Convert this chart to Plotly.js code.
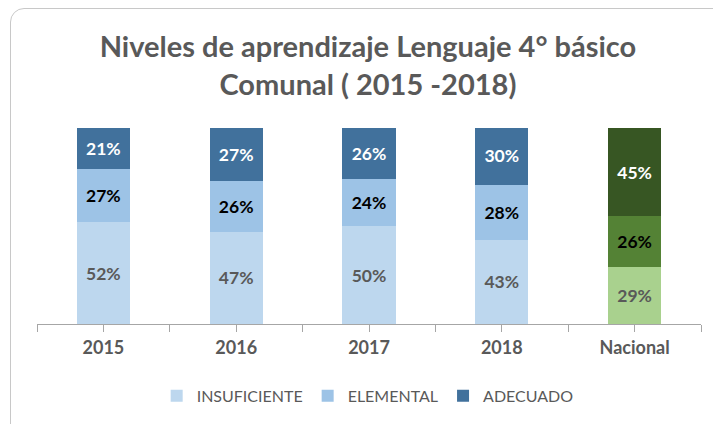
<!DOCTYPE html>
<html>
<head>
<meta charset="utf-8">
<script src="https://cdn.plot.ly/plotly-3.0.1.min.js"></script>
<style>
  html, body { margin: 0; padding: 0; background: #ffffff; overflow: hidden; }
  #card { position: absolute; left: 10px; top: 8px; width: 760px; height: 480px;
          border: 1px solid #c8c8c8; border-radius: 14px; box-sizing: border-box; }
  #chart { position: absolute; left: 0; top: 0; width: 713px; height: 424px; }
</style>
</head>
<body>
<div id="card"></div>
<div id="chart"></div>
<script>
const categories = ['2015', '2016', '2017', '2018', 'Nacional'];
const insuficiente = [52, 47, 50, 43, 29];
const elemental = [27, 26, 24, 28, 26];
const adecuado = [21, 27, 26, 30, 45];

const xpos = categories.map((c, i) => i);

const colInsuf = ['#BDD7EE', '#BDD7EE', '#BDD7EE', '#BDD7EE', '#A9D18E'];
const colElem = ['#9DC3E6', '#9DC3E6', '#9DC3E6', '#9DC3E6', '#548235'];
const colAdec = ['#41719C', '#41719C', '#41719C', '#41719C', '#375623'];

const FONT = 'Lato, "Open Sans", sans-serif';

function trace(name, vals, colors, txtColor) {
  return {
    type: 'bar', name: name, x: xpos, y: vals,
    marker: { color: colors, line: { width: 0 } },
    texttemplate: '%{y}%', textposition: 'inside', insidetextanchor: 'middle',
    textangle: 0, constraintext: 'none',
    textfont: { family: FONT, size: 17.5, color: txtColor, weight: 'bold' },
    hoverinfo: 'skip', width: 0.4
  };
}

const data = [
  trace('INSUFICIENTE', insuficiente, colInsuf, '#595959'),
  trace('ELEMENTAL', elemental, colElem, '#000000'),
  trace('ADECUADO', adecuado, colAdec, '#ffffff')
];

const tickvals = [];
const ticktext = [];
for (let i = 0; i < categories.length; i++) {
  tickvals.push(i - 0.5); ticktext.push('');
  tickvals.push(i); ticktext.push(categories[i]);
}
tickvals.push(categories.length - 0.5); ticktext.push('');

const layout = {
  width: 713, height: 424,
  paper_bgcolor: 'rgba(0,0,0,0)', plot_bgcolor: 'rgba(0,0,0,0)',
  margin: { l: 37, r: 12, t: 128, b: 99 },
  barmode: 'stack',
  showlegend: true,
  title: {
    text: 'Niveles de aprendizaje Lenguaje 4° básico<br>Comunal ( 2015 -2018)',
    font: { family: FONT, size: 29, color: '#595959', weight: 'bold' },
    x: 0.516, xanchor: 'center', y: 0.866, yanchor: 'top', yref: 'container'
  },
  xaxis: {
    range: [-0.5, categories.length - 0.5],
    tickmode: 'array', tickvals: tickvals, ticktext: ticktext,
    ticks: 'outside', ticklen: 7, tickcolor: '#a6a6a6', tickwidth: 1,
    showline: true, linecolor: '#a6a6a6', linewidth: 1,
    showgrid: false, zeroline: false, fixedrange: true,
    tickfont: { family: FONT, size: 18, color: '#595959', weight: 'bold' }
  },
  yaxis: { range: [0, 100], visible: false, fixedrange: true },
  legend: {
    orientation: 'h', x: 0.498, xanchor: 'center', y: -0.36, yanchor: 'middle',
    font: { family: FONT, size: 16, color: '#595959' },
    traceorder: 'normal', itemclick: false
  }
};

Plotly.newPlot('chart', data, layout, { displayModeBar: false, staticPlot: true });
</script>
</body>
</html>
